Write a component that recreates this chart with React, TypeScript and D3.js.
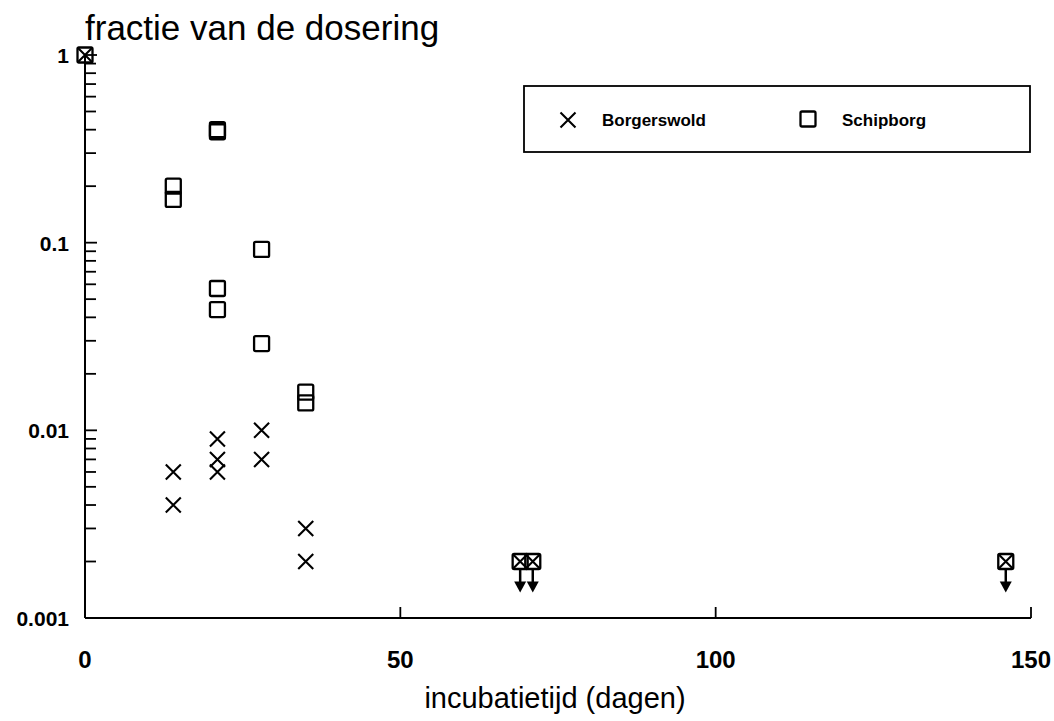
import * as d3 from 'd3'

// Borgerswold (crosses)
const borgDays = [0, 14, 14, 21, 21, 21, 28, 28, 35, 35, 69, 71, 146]
const borgValues = [1, 0.006, 0.004, 0.009, 0.007, 0.006, 0.01, 0.007, 0.003, 0.002, 0.002, 0.002, 0.002]
const borgBelowLimit = [false, false, false, false, false, false, false, false, false, false, true, true, true]

// Schipborg (squares)
const schipDays = [0, 14, 14, 21, 21, 21, 21, 28, 28, 35, 35, 69, 71, 146]
const schipValues = [1, 0.2, 0.17, 0.4, 0.39, 0.057, 0.044, 0.092, 0.029, 0.016, 0.014, 0.002, 0.002, 0.002]

const xTicks = [0, 50, 100, 150]
const yTicks = [1, 0.1, 0.01, 0.001]
const yTickLabels = ['1', '0.1', '0.01', '0.001']

const width = 1054
const height = 721
const font = '"Liberation Sans", Arial, sans-serif'

const App = () => {
  const x = d3.scaleLinear().domain([0, 150]).range([85, 1031])
  const y = d3.scaleLog().domain([0.001, 1]).range([618, 55])

  // minor ticks 2..9 in each decade
  const minor: number[] = []
  for (const d of [0.001, 0.01, 0.1]) {
    for (let k = 2; k <= 9; k++) minor.push(d * k)
  }

  const cross = (cx: number, cy: number, key: string) => (
    <path key={key} d={`M${cx - 7.5},${cy - 7.5}L${cx + 7.5},${cy + 7.5}M${cx - 7.5},${cy + 7.5}L${cx + 7.5},${cy - 7.5}`}
      stroke="#000" strokeWidth={2.1} fill="none" />
  )
  const square = (cx: number, cy: number, key: string) => (
    <rect key={key} x={cx - 7.5} y={cy - 7.5} width={15} height={15} rx={1.5}
      stroke="#000" strokeWidth={2.3} fill="none" />
  )

  return (
    <div style={{ position: 'absolute', left: 0, top: 0 }}>
      <svg width={width} height={height} style={{ display: 'block', background: '#fff' }}>
        {/* title */}
        <text x={85} y={40} fontFamily={font} fontSize={35} fill="#000">fractie van de dosering</text>

        {/* axes */}
        <line x1={x(0)} x2={x(0)} y1={y(1)} y2={y(0.001)} stroke="#000" strokeWidth={2} />
        <line x1={x(0)} x2={x(150)} y1={y(0.001)} y2={y(0.001)} stroke="#000" strokeWidth={2} />

        {minor.map((v, i) => (
          <line key={'m' + i} x1={x(0)} x2={x(0) + 11} y1={y(v)} y2={y(v)} stroke="#000" strokeWidth={1.8} />
        ))}
        {yTicks.map((v, i) => (
          <g key={'y' + i}>
            <line x1={x(0)} x2={x(0) + 12} y1={y(v)} y2={y(v)} stroke="#000" strokeWidth={1.8} />
            <text x={69} y={y(v) + 8} textAnchor="end" fontFamily={font} fontWeight="bold" fontSize={21}>
              {yTickLabels[i]}
            </text>
          </g>
        ))}
        {xTicks.map((v, i) => (
          <g key={'x' + i}>
            <line x1={x(v)} x2={x(v)} y1={y(0.001)} y2={y(0.001) - 11} stroke="#000" strokeWidth={1.8} />
            <text x={x(v)} y={668} textAnchor="middle" fontFamily={font} fontWeight="bold" fontSize={24}>
              {v}
            </text>
          </g>
        ))}

        <text x={555} y={708} textAnchor="middle" fontFamily={font} fontSize={29}>incubatietijd (dagen)</text>

        {/* data */}
        {schipDays.map((d, i) => square(x(d), y(schipValues[i]), 's' + i))}
        {borgDays.map((d, i) => cross(x(d), y(borgValues[i]), 'b' + i))}

        {/* below detection limit arrows */}
        {borgDays.map((d, i) => borgBelowLimit[i] ? (
          <g key={'a' + i}>
            <line x1={x(d)} x2={x(d)} y1={y(borgValues[i]) + 7} y2={y(borgValues[i]) + 22} stroke="#000" strokeWidth={2.5} />
            <path d={`M${x(d) - 6},${y(borgValues[i]) + 20}L${x(d) + 6},${y(borgValues[i]) + 20}L${x(d)},${y(borgValues[i]) + 31}Z`} fill="#000" />
          </g>
        ) : null)}

        {/* legend */}
        <rect x={524} y={86} width={506} height={66} fill="none" stroke="#000" strokeWidth={1.8} />
        {cross(568, 120, 'lc')}
        <text x={602} y={126} fontFamily={font} fontSize={17} fontWeight="bold">Borgerswold</text>
        {square(808, 119, 'ls')}
        <text x={842} y={126} fontFamily={font} fontSize={17} fontWeight="bold">Schipborg</text>
      </svg>
    </div>
  )
}

export default App
